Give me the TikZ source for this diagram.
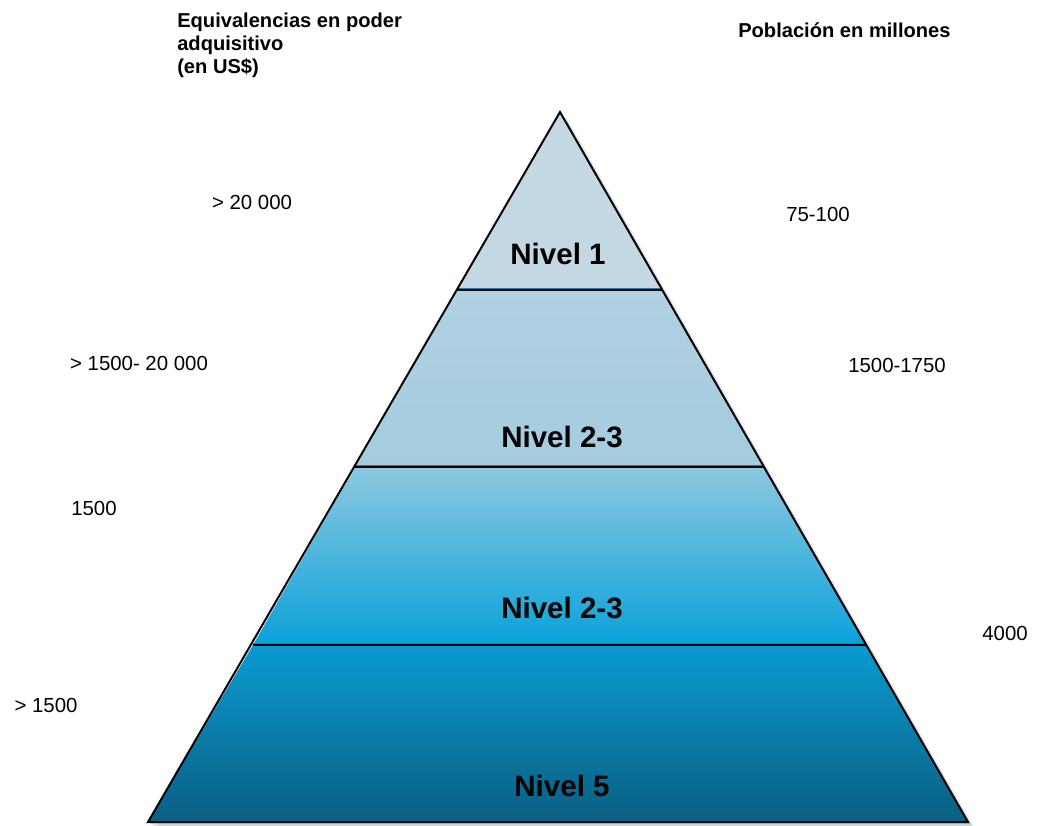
\documentclass[tikz,border=0pt]{standalone}
\usepackage{fontspec}
\setmainfont{Liberation Sans}
\usepackage{tikz}

\definecolor{nivA}{HTML}{C4D8E4}
\definecolor{nivBtop}{HTML}{B0D2E3}
\definecolor{nivBbot}{HTML}{A5CBDF}
\definecolor{nivCtop}{HTML}{8CC8E0}
\definecolor{nivCmid}{HTML}{10AAE0}
\definecolor{nivCbot}{HTML}{0AA2DA}
\definecolor{nivDtop}{HTML}{0A9AD2}
\definecolor{nivDmid}{HTML}{0886BA}
\definecolor{nivDbot}{HTML}{0A5F82}
\definecolor{sepblue}{HTML}{1E7FB8}

\begin{document}
\begin{tikzpicture}[x=0.025cm,y=-0.025cm,
  num/.style={font=\fontsize{14.5}{17}\selectfont},
  nivel/.style={font=\fontsize{21}{25}\selectfont\bfseries},
  head/.style={font=\fontsize{14.3}{16.4}\selectfont\bfseries,inner sep=0pt}]

\useasboundingbox (0,0) rectangle (1038,825);

% esquinas de la piramide
\coordinate (top) at (560,112);
\coordinate (l1) at (457,290);
\coordinate (r1) at (662,290);
\coordinate (l2) at (355,467);
\coordinate (r2) at (764,467);
\coordinate (l3) at (253,645);
\coordinate (r3) at (866,645);
\coordinate (l4) at (148,822);
\coordinate (r4) at (968,822);

% sombra
\foreach \d/\o in {8/0.05,6/0.06,4/0.08,2/0.1}
  \fill[black,opacity=\o] ([shift={(\d,\d)}]top) -- ([shift={(\d,\d)}]l4)
    -- ([shift={(\d,\d)}]r4) -- cycle;

% niveles
\shade[top color=nivA,bottom color=nivA] (top) -- (l1) -- (r1) -- cycle;
\shade[top color=nivBtop,bottom color=nivBbot] (l1) -- (l2) -- (r2) -- (r1) -- cycle;
\shade[top color=nivCtop,middle color=nivCmid,bottom color=nivCbot]
  (l2) -- (l3) -- (r3) -- (r2) -- cycle;
\shade[top color=nivDtop,middle color=nivDmid,bottom color=nivDbot]
  (l3) -- (l4) -- (r4) -- (r3) -- cycle;

% lineas
\foreach \i in {1,2,3} {
  \draw[sepblue,line width=0.9pt] ([shift={(0,-1.6)}]l\i) -- ([shift={(0,-1.6)}]r\i);
  \draw[line width=1.3pt] (l\i) -- (r\i);
}
\draw[line width=1.4pt,line join=miter] (top) -- (l4) -- (r4) -- cycle;

% textos de los niveles
\node[nivel] (niv1) at (558,254) {Nivel 1};
\node[nivel] (niv2) at (562,437) {Nivel 2-3};
\node[nivel] (niv3) at (562,608) {Nivel 2-3};
\node[nivel] (niv5) at (562,786) {Nivel 5};

% izquierda
\node[head,anchor=north west,align=left] (eqv) at (177,12.5)
  {Equivalencias en poder\\adquisitivo\\(en US\$)};
\node[num] (eq1) at (252,202) {> 20 000};
\node[num] (eq2) at (139,363) {> 1500- 20 000};
\node[num] (eq3) at (94,508) {1500};
\node[num] (eq4) at (46,705) {> 1500};

% derecha
\node[head,anchor=base west] (pob) at (738,37) {Población en millones};
\node[num] (pob1) at (818,214) {75-100};
\node[num] (pob2) at (897,365) {1500-1750};
\node[num] (pob3) at (1005,633) {4000};

\end{tikzpicture}
\end{document}
